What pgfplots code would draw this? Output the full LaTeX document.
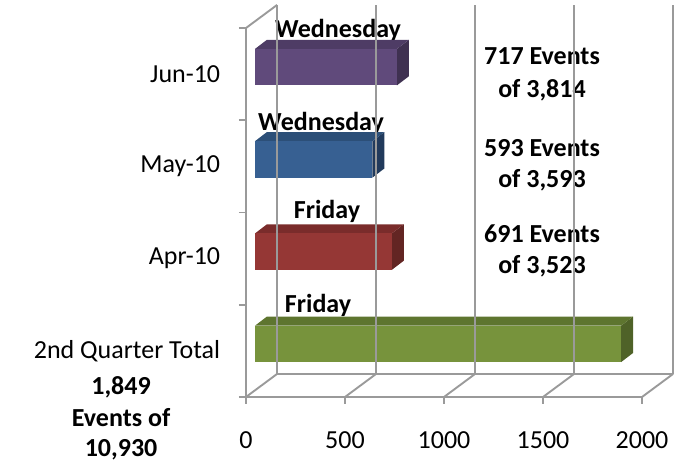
\documentclass[border=0pt]{standalone}
\usepackage{pgfplots}
\pgfplotsset{compat=1.18}
\usepackage{fontspec}
\setmainfont{Carlito}
\definecolor{gridgray}{HTML}{9A9A9A}
\definecolor{junF}{HTML}{604A7B}\definecolor{junT}{HTML}{4E3C65}\definecolor{junS}{HTML}{3F3151}
\definecolor{mayF}{HTML}{376092}\definecolor{mayT}{HTML}{2C4F78}\definecolor{mayS}{HTML}{213A5C}
\definecolor{aprF}{HTML}{953735}\definecolor{aprT}{HTML}{7A2C2B}\definecolor{aprS}{HTML}{632523}
\definecolor{totF}{HTML}{77933C}\definecolor{totT}{HTML}{5E752F}\definecolor{totS}{HTML}{4F6228}
\begin{document}
\fontsize{26}{32}\selectfont
\begin{tikzpicture}
\path[use as bounding box] (0,0) rectangle (689pt,463pt);
\begin{axis}[
  at={(246pt,66pt)}, anchor=south west,
  width=396pt, height=369pt, scale only axis,
  xmin=0, xmax=2000, ymin=-0.5, ymax=3.5,
  clip=false,
  axis x line*=bottom, axis y line*=left,
  axis line style={draw=gridgray, line width=1.9pt, -},
  xtick={0,500,1000,1500,2000},
  xticklabels={0,500,1000,1500,2000},
  ytick={-0.5,0.5,1.5,2.5,3.5},
  yticklabels={},
  extra y ticks={0,1,2,3},
  extra y tick labels={2nd Quarter Total,Apr-10,May-10,Jun-10},
  extra y tick style={major tick length=0pt, tick style={draw=none}},
  tick align=outside,
  major tick length=7pt,
  tick style={draw=gridgray, line width=1.9pt},
  xticklabel style={yshift=-19pt},
  yticklabel style={xshift=-17pt},
  xbar stacked, bar width=0.395, bar shift=0.075,
]
% back wall and floor
\addplot[gridgray, line width=1.9pt, sharp plot, stack plots=false, forget plot] coordinates {(157,-0.25) (2157,-0.25)};
\addplot[gridgray, line width=1.9pt, sharp plot, stack plots=false, forget plot] coordinates {(157,-0.25) (157,3.75)};
\addplot[gridgray, line width=1.9pt, sharp plot, stack plots=false, forget plot] coordinates {(657,-0.25) (657,3.75)};
\addplot[gridgray, line width=1.9pt, sharp plot, stack plots=false, forget plot] coordinates {(1157,-0.25) (1157,3.75)};
\addplot[gridgray, line width=1.9pt, sharp plot, stack plots=false, forget plot] coordinates {(1657,-0.25) (1657,3.75)};
\addplot[gridgray, line width=1.9pt, sharp plot, stack plots=false, forget plot] coordinates {(2157,-0.25) (2157,3.75)};
\addplot[gridgray, line width=1.9pt, sharp plot, stack plots=false, forget plot] coordinates {(0,3.5) (157,3.75)};
\addplot[gridgray, line width=1.9pt, sharp plot, stack plots=false, forget plot] coordinates {(0,-0.5) (157,-0.25)};
\addplot[gridgray, line width=1.9pt, sharp plot, stack plots=false, forget plot] coordinates {(500,-0.5) (657,-0.25)};
\addplot[gridgray, line width=1.9pt, sharp plot, stack plots=false, forget plot] coordinates {(1000,-0.5) (1157,-0.25)};
\addplot[gridgray, line width=1.9pt, sharp plot, stack plots=false, forget plot] coordinates {(1500,-0.5) (1657,-0.25)};
\addplot[gridgray, line width=1.9pt, sharp plot, stack plots=false, forget plot] coordinates {(2000,-0.5) (2157,-0.25)};
% bars (front faces): invisible depth offset, then values
\addplot[draw=none, fill=none, forget plot] coordinates {(45,0) (45,1) (45,2) (45,3)};
\addplot[draw=none, fill=totF, forget plot] coordinates {(1849,0) (0,1) (0,2) (0,3)};
\addplot[draw=none, fill=aprF, forget plot] coordinates {(0,0) (691,1) (0,2) (0,3)};
\addplot[draw=none, fill=mayF, forget plot] coordinates {(0,0) (0,1) (593,2) (0,3)};
\addplot[draw=none, fill=junF, forget plot] coordinates {(0,0) (0,1) (0,2) (717,3)};
% top and side faces
\addplot[draw=none, fill=totT, sharp plot, stack plots=false, forget plot] coordinates {(45,0.2725) (1894,0.2725) (1955,0.3725) (106,0.3725)};
\addplot[draw=none, fill=totS, sharp plot, stack plots=false, forget plot] coordinates {(1894,-0.1225) (1955,-0.0225) (1955,0.3725) (1894,0.2725)};
\addplot[draw=none, fill=aprT, sharp plot, stack plots=false, forget plot] coordinates {(45,1.2725) (736,1.2725) (797,1.3725) (106,1.3725)};
\addplot[draw=none, fill=aprS, sharp plot, stack plots=false, forget plot] coordinates {(736,0.8775) (797,0.9775) (797,1.3725) (736,1.2725)};
\addplot[draw=none, fill=mayT, sharp plot, stack plots=false, forget plot] coordinates {(45,2.2725) (638,2.2725) (699,2.3725) (106,2.3725)};
\addplot[draw=none, fill=mayS, sharp plot, stack plots=false, forget plot] coordinates {(638,1.8775) (699,1.9775) (699,2.3725) (638,2.2725)};
\addplot[draw=none, fill=junT, sharp plot, stack plots=false, forget plot] coordinates {(45,3.2725) (762,3.2725) (823,3.3725) (106,3.3725)};
\addplot[draw=none, fill=junS, sharp plot, stack plots=false, forget plot] coordinates {(762,2.8775) (823,2.9775) (823,3.3725) (762,3.2725)};
% labels
\node[anchor=base, font=\bfseries] at (axis cs:465,3.392) {Wednesday};
\node[anchor=base, font=\bfseries] at (axis cs:379,2.394) {Wednesday};
\node[anchor=base, font=\bfseries] at (axis cs:409,1.440) {Friday};
\node[anchor=base, font=\bfseries] at (axis cs:364,0.411) {Friday};
\node[anchor=base, font=\bfseries] at (axis cs:1495,3.099) {717 Events};
\node[anchor=base, font=\bfseries] at (axis cs:1495,2.752) {of 3,814};
\node[anchor=base, font=\bfseries] at (axis cs:1495,2.102) {593 Events};
\node[anchor=base, font=\bfseries] at (axis cs:1495,1.766) {of 3,593};
\node[anchor=base, font=\bfseries] at (axis cs:1495,1.180) {691 Events};
\node[anchor=base, font=\bfseries] at (axis cs:1495,0.844) {of 3,523};
\node[anchor=base, font=\bfseries] at (axis cs:-631,-0.478) {1,849};
\node[anchor=base, font=\bfseries] at (axis cs:-631,-0.825) {Events of};
\node[anchor=base, font=\bfseries] at (axis cs:-631,-1.150) {10,930};
\end{axis}
\end{tikzpicture}
\end{document}
